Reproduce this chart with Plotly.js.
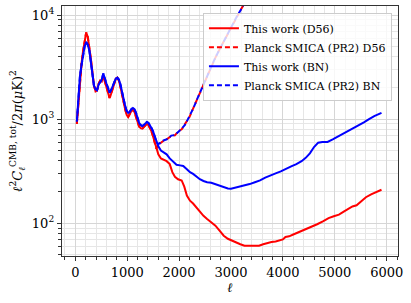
<!DOCTYPE html>
<html><head><meta charset="utf-8">
<script src="https://cdn.plot.ly/plotly-3.0.1.min.js"></script>
<style>html,body{margin:0;padding:0;background:#fff}#c{width:411px;height:303px}</style>
</head><body><div id="c"></div>
<script>
// ---- data ----
const ellLow = [30,60,90,120,150,180,210,240,270,300,330,360,390,420,450,480,510,540,570,600,630,660,690,720,750,780,810,840,870,900,930,960,990,1020,1050,1080,1110,1140,1170,1200,1230,1260,1290,1320,1350,1380,1410,1440,1470,1500,1530,1560];
const d56Low = [900,1500,2500,3400,4500,5800,6800,6200,5000,3800,2800,2100,1850,1900,2200,2350,2300,2600,2300,2000,1750,1600,1750,2000,2250,2450,2500,2350,2050,1700,1450,1250,1100,1050,1120,1200,1230,1180,1050,920,850,820,810,840,880,900,880,830,760,680,600,520];
const bnLow  = [950,1600,2600,3300,4200,5000,5500,5200,4600,3600,2700,2100,1950,1900,2150,2300,2400,2750,2400,2200,2000,1800,1900,2100,2300,2450,2500,2400,2150,1800,1550,1350,1200,1150,1180,1250,1280,1250,1150,1000,920,880,860,880,920,940,920,880,820,760,680,610];

const ellD56High = [1600,1650,1700,1760,1820,1870,1920,1980,2050,2100,2150,2210,2270,2340,2400,2470,2540,2620,2700,2780,2860,2940,3020,3100,3180,3260,3340,3440,3540,3620,3700,3780,3860,3940,4000,4050,4120,4200,4300,4420,4540,4660,4780,4880,4980,5080,5180,5260,5340,5420,5500,5600,5700,5800,5900];
const d56High = [460,420,405,395,370,310,280,265,258,225,185,165,155,140,128,118,110,102,95,85,76,71,68,66,63,61,61,61,61,63,65,66,67,69,70,74,75,78,82,86,91,98,105,112,117,121,130,137,145,149,160,178,190,200,210];

const ellBNHigh = [1600,1650,1700,1760,1820,1890,1950,2020,2080,2150,2210,2270,2340,2400,2470,2540,2620,2700,2780,2860,2940,3000,3080,3160,3260,3360,3460,3560,3660,3760,3860,3960,4060,4160,4260,4360,4440,4520,4600,4680,4760,4860,4960,5060,5160,5260,5360,5460,5560,5660,5760,5900];
const bnHigh = [550,500,480,460,420,385,365,360,355,330,310,298,280,265,255,248,245,238,228,222,216,215,220,222,228,238,248,258,275,290,302,315,335,352,370,395,425,470,540,595,605,605,640,680,720,765,810,865,930,1000,1070,1150];

const ellPlanckHigh = [1600,1650,1700,1780,1850,1920,1980,2050,2120,2200,2280,2360,2440,2520,2600,2700,2800,2900,3000,3100,3200,3300];
const planckD56High = [570,600,620,650,690,700,760,800,900,1050,1300,1600,2000,2450,3100,3900,4900,6100,7600,9400,11500,14000];
const planckBNHigh  = [575,595,625,645,695,705,750,810,890,1060,1290,1610,1990,2460,3080,3920,4880,6120,7580,9420,11480,14000];

const xTickVals = [0,1000,2000,3000,4000,5000,6000];
const yTickVals = [100,1000,10000];
const yTickText = ['10<sup>2</sup>','10<sup>3</sup>','10<sup>4</sup>'];
const legendNames = ['This work (D56)','Planck SMICA (PR2) D56','This work (BN)','Planck SMICA (PR2) BN'];

// ---- build ----
const RED = '#ff0000', BLUE = '#0000ff';
const traces = [
  {x: ellLow.concat(ellD56High), y: d56Low.concat(d56High), name: legendNames[0], line:{color:RED,width:2}},
  {x: ellLow.concat(ellPlanckHigh), y: d56Low.concat(planckD56High), name: legendNames[1], line:{color:RED,width:2,dash:'5px,3px'}},
  {x: ellLow.concat(ellBNHigh), y: bnLow.concat(bnHigh), name: legendNames[2], line:{color:BLUE,width:2}},
  {x: ellLow.concat(ellPlanckHigh), y: bnLow.concat(planckBNHigh), name: legendNames[3], line:{color:BLUE,width:2,dash:'5px,3px'}}
].map(t => Object.assign({type:'scatter', mode:'lines', hoverinfo:'skip'}, t));

const xMinor = []; for (let v=-200; v<=6200; v+=200) if (v%1000!==0) xMinor.push(v);
const yMinor = []; [10,100,1000,10000].forEach(d => { for (let k=2;k<=9;k++) yMinor.push(k*d); });

const FONT = 'DejaVu Serif';
const layout = {
  width: 411, height: 303,
  margin: {l:62, r:13, t:6, b:47},
  paper_bgcolor:'#fff', plot_bgcolor:'#fff',
  font: {family: FONT, size: 13, color:'#000'},
  showlegend: true,
  legend: {x:0.982, y:0.973, xanchor:'right', yanchor:'top',
           bgcolor:'rgba(255,255,255,0.8)', bordercolor:'#cccccc', borderwidth:1,
           font:{family:FONT, size:11}, itemwidth:30, tracegroupgap:0},
  xaxis: {range:[-256, 6218], tickmode:'array', tickvals:xTickVals,
          ticks:'outside', ticklen:4, tickwidth:1, tickcolor:'#333',
          showline:true, mirror:true, linecolor:'#333', linewidth:1.2,
          showgrid:true, gridcolor:'#d6d6d6', gridwidth:1, zeroline:false,
          minor:{tickmode:'array', tickvals:xMinor, ticks:'outside', ticklen:2.5, tickcolor:'#333', showgrid:true, gridcolor:'#e6e6e6', gridwidth:1},
          title:{text:'<i>ℓ</i>', font:{family:FONT, size:13}, standoff:4}},
  yaxis: {type:'log', range:[1.686, 4.087], tickmode:'array', tickvals:yTickVals, ticktext:yTickText,
          ticks:'outside', ticklen:4, tickwidth:1, tickcolor:'#333',
          showline:true, mirror:true, linecolor:'#333', linewidth:1.2,
          showgrid:true, gridcolor:'#d6d6d6', gridwidth:1, zeroline:false,
          minor:{tickmode:'array', tickvals:yMinor, ticks:'outside', ticklen:2.5, tickcolor:'#333', showgrid:true, gridcolor:'#e6e6e6', gridwidth:1},
          title:{text:'<i>ℓ</i><sup>2</sup><i>C</i><sub><i>ℓ</i></sub><sup>CMB, tot</sup>/2<i>π</i>(<i>μ</i>K)<sup>2</sup>', font:{family:FONT, size:13}, standoff:6}}
};
Plotly.newPlot('c', traces, layout, {staticPlot:true, displayModeBar:false});
</script>
</body></html>
